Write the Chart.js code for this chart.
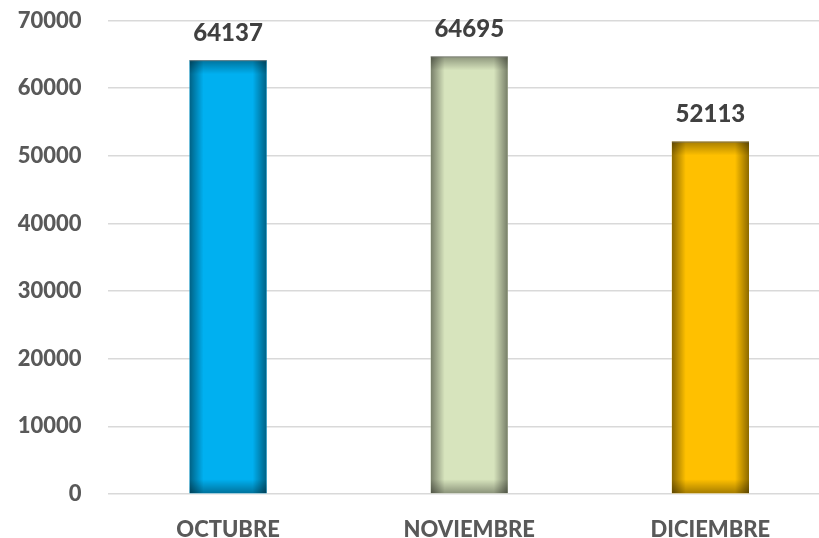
<!DOCTYPE html>
<html>
<head>
<meta charset="utf-8">
<script src="https://cdn.jsdelivr.net/npm/chart.js@4/dist/chart.umd.min.js"></script>
<style>
html,body{margin:0;padding:0;background:#fff;overflow:hidden;}
#wrap{width:831px;height:538px;position:relative;}
</style>
</head>
<body>
<div id="wrap"><canvas id="c"></canvas></div>
<script>
const categories = ["OCTUBRE", "NOVIEMBRE", "DICIEMBRE"];
const values = [64137, 64695, 52113];
const barColors = ["#00B0F0", "#D7E4BD", "#FFC000"];
const yTicks = [0, 10000, 20000, 30000, 40000, 50000, 60000, 70000];

const innerShadow = {
  id: 'innerShadow',
  afterDatasetsDraw(chart) {
    const ctx = chart.ctx;
    const meta = chart.getDatasetMeta(0);
    meta.data.forEach((bar) => {
      const left = bar.x - bar.width / 2;
      const right = bar.x + bar.width / 2;
      const top = Math.min(bar.y, bar.base);
      const bottom = Math.max(bar.y, bar.base);
      const w = right - left, h = bottom - top;
      const s = 14;
      ctx.save();
      ctx.beginPath();
      ctx.rect(left, top, w, h);
      ctx.clip();
      let g = ctx.createLinearGradient(left, 0, left + s, 0);
      g.addColorStop(0, 'rgba(0,0,0,0.45)');
      g.addColorStop(1, 'rgba(0,0,0,0)');
      ctx.fillStyle = g; ctx.fillRect(left, top, s, h);
      g = ctx.createLinearGradient(right, 0, right - s, 0);
      g.addColorStop(0, 'rgba(0,0,0,0.45)');
      g.addColorStop(1, 'rgba(0,0,0,0)');
      ctx.fillStyle = g; ctx.fillRect(right - s, top, s, h);
      g = ctx.createLinearGradient(0, top, 0, top + s);
      g.addColorStop(0, 'rgba(0,0,0,0.35)');
      g.addColorStop(1, 'rgba(0,0,0,0)');
      ctx.fillStyle = g; ctx.fillRect(left, top, w, s);
      g = ctx.createLinearGradient(0, bottom, 0, bottom - s);
      g.addColorStop(0, 'rgba(0,0,0,0.35)');
      g.addColorStop(1, 'rgba(0,0,0,0)');
      ctx.fillStyle = g; ctx.fillRect(left, bottom - s, w, s);
      ctx.restore();
      ctx.save();
      ctx.strokeStyle = 'rgba(120,120,120,0.8)';
      ctx.lineWidth = 1;
      ctx.beginPath();
      ctx.moveTo(left, top + 0.5); ctx.lineTo(right, top + 0.5);
      ctx.stroke();
      ctx.restore();
    });
  }
};

const valueLabels = {
  id: 'valueLabels',
  afterDatasetsDraw(chart) {
    const ctx = chart.ctx;
    const meta = chart.getDatasetMeta(0);
    ctx.save();
    ctx.font = '900 24px Lato';
    ctx.fillStyle = '#404040';
    ctx.textAlign = 'center';
    ctx.textBaseline = 'middle';
    meta.data.forEach((bar, i) => {
      ctx.fillText(String(values[i]), bar.x, bar.y - 27);
    });
    ctx.restore();
  }
};

new Chart(document.getElementById('c'), {
  type: 'bar',
  data: {
    labels: categories,
    datasets: [{
      data: values,
      backgroundColor: barColors,
      borderWidth: 0,
      barPercentage: 0.32,
      categoryPercentage: 1
    }]
  },
  options: {
    responsive: true,
    maintainAspectRatio: false,
    animation: false,
    layout: { padding: { top: 20.5, right: 0, left: 0, bottom: 0 } },
    plugins: { legend: { display: false }, tooltip: { enabled: false } },
    scales: {
      x: {
        grid: { display: false, drawTicks: false },
        border: { display: false },
        ticks: { color: '#595959', font: { family: 'Lato', size: 22, weight: '900' }, padding: 23 },
        afterFit(scale) { scale.height = 44; scale.paddingLeft = 0; scale.paddingRight = 0; }
      },
      y: {
        min: 0, max: 70000,
        afterBuildTicks(scale) { scale.ticks = yTicks.map(v => ({ value: v })); },
        grid: { color: '#d9d9d9', lineWidth: 1.5, drawTicks: false },
        border: { display: false },
        ticks: {
          color: '#595959', font: { family: 'Lato', size: 22, weight: '900' }, padding: 26,
          callback: (v) => String(v)
        },
        afterFit(scale) { scale.width = 107.5; scale.paddingTop = 0; scale.paddingBottom = 0; }
      }
    }
  },
  plugins: [innerShadow, valueLabels]
});
</script>
</body>
</html>
